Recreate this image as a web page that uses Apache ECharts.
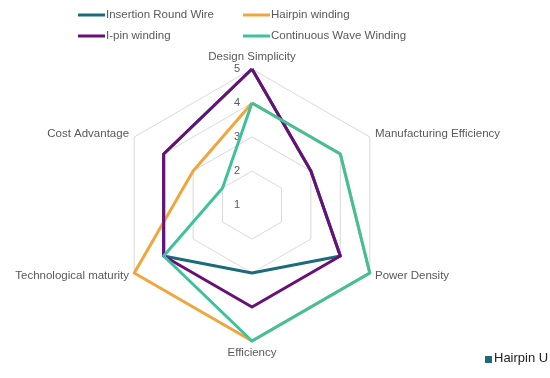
<!DOCTYPE html>
<html>
<head>
<meta charset="utf-8">
<script src="https://cdn.jsdelivr.net/npm/echarts@6/dist/echarts.min.js"></script>
<style>
  html, body { margin: 0; padding: 0; background: #fff; }
  #chart { width: 550px; height: 378px; }
</style>
</head>
<body>
<div id="chart"></div>
<script>
// indicators, listed counterclockwise from the top (ECharts radar order)
var categories = ['Design Simplicity', 'Cost Advantage', 'Technological maturity',
                  'Efficiency', 'Power Density', 'Manufacturing Efficiency'];
var scaleMin = 1;
var scaleMax = 5;

var insertionRoundWire = [5, 4, 4, 3, 4, 3];
var hairpinWinding     = [4, 3, 5, 5, 5, 4];
var iPinWinding        = [5, 4, 4, 4, 4, 3];
var continuousWave     = [4, 2, 4, 5, 5, 4];

var seriesNames = ['Insertion Round Wire', 'Hairpin winding', 'I-pin winding', 'Continuous Wave Winding'];
var colors = ['#1b6b7b', '#f0a63c', '#690f78', '#3dc29c'];

window.onload = function () {
    var myChart = echarts.init(document.getElementById('chart'));

    var legendPos = [
        { left: 78, top: 9 },
        { left: 243, top: 9 },
        { left: 78, top: 30 },
        { left: 243, top: 30 }
    ];
    var legends = seriesNames.map(function (n, i) {
        return {
            data: [n],
            left: legendPos[i].left,
            top: legendPos[i].top,
            padding: 0,
            icon: 'rect',
            itemWidth: 27,
            itemHeight: 3,
            itemGap: 0,
            textStyle: { color: '#595959', fontSize: 11.5, fontFamily: 'Liberation Sans', padding: [0, 0, 0, -4] }
        };
    });

    var values = [insertionRoundWire, hairpinWinding, iPinWinding, continuousWave];

    var option = {
        animation: false,
        color: colors,
        legend: legends,
        radar: {
            center: [252, 205],
            radius: 136,
            startAngle: 90,
            splitNumber: scaleMax - scaleMin,
            shape: 'polygon',
            indicator: categories.map(function (c, i) {
                // scale numbers only on the top axis
                return { name: c, min: scaleMin, max: scaleMax, axisLabel: { show: i === 0 } };
            }),
            axisName: {
                color: '#595959',
                fontSize: 11.5,
                fontFamily: 'Liberation Sans'
            },
            nameGap: 6,
            axisLine: { show: false },
            axisTick: { show: false },
            splitArea: { show: false },
            splitLine: { lineStyle: { color: '#d9d9d9', width: 1 } },
            axisLabel: {
                show: false,
                color: '#595959',
                fontSize: 11,
                fontFamily: 'Liberation Sans',
                margin: 12
            }
        },
        series: [{
            type: 'radar',
            symbol: 'none',
            data: values.map(function (v, i) {
                return {
                    name: seriesNames[i],
                    value: v,
                    lineStyle: { width: 3, color: colors[i] }
                };
            })
        }],
        graphic: [{
            type: 'rect',
            shape: { x: 485, y: 356, width: 7, height: 7 },
            style: { fill: '#1b6b7b' }
        }, {
            type: 'text',
            x: 494,
            y: 352,
            style: { text: 'Hairpin U', fill: '#222', fontSize: 13, fontFamily: 'Liberation Sans' }
        }]
    };
    myChart.setOption(option);
};
</script>
</body>
</html>
